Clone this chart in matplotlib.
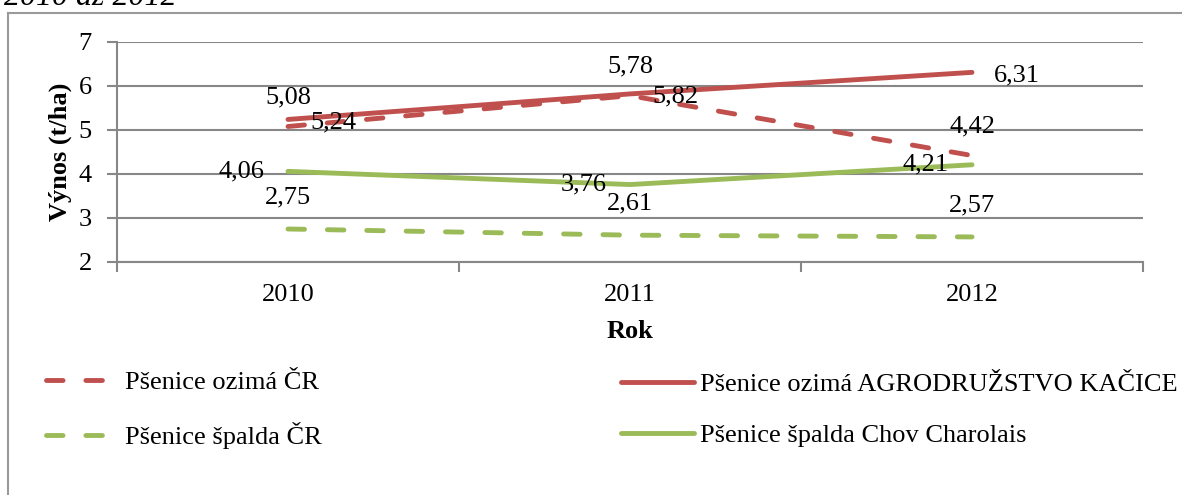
import matplotlib.pyplot as plt
from matplotlib.lines import Line2D

plt.rcParams['font.family'] = ['Liberation Serif', 'DejaVu Serif']

years = ['2010', '2011', '2012']
ozima_cr = [5.08, 5.78, 4.42]
ozima_agro = [5.24, 5.82, 6.31]
spalda_cr = [2.75, 2.61, 2.57]
spalda_chov = [4.06, 3.76, 4.21]
names = ['Pšenice ozimá ČR', 'Pšenice ozimá AGRODRUŽSTVO KAČICE',
         'Pšenice špalda ČR', 'Pšenice špalda Chov Charolais']

red = '#C0504D'
green = '#9BBB59'
grid = '#878787'
fs = 19
lw = 3.5
dash = (0, (3.4, 4.7))

fig = plt.figure(figsize=(11.82, 4.95), dpi=100)
ax = fig.add_axes([117/1182, 1 - 262/495, (1143-117)/1182, 220/495])

x = range(len(years))
l1, = ax.plot(x, ozima_cr, color=red, lw=lw, ls=dash, dash_capstyle='round', zorder=3)
l2, = ax.plot(x, ozima_agro, color=red, lw=lw, solid_capstyle='round', zorder=3)
l3, = ax.plot(x, spalda_cr, color=green, lw=lw, ls=dash, dash_capstyle='round', zorder=3)
l4, = ax.plot(x, spalda_chov, color=green, lw=lw, solid_capstyle='round', zorder=3)

# data labels, placed like Excel does (above / right / left)
def fmt(v):
    return f'{v:.2f}'.replace('.', ',')

for i in x:
    ax.annotate(fmt(ozima_cr[i]), (i, ozima_cr[i]), xytext=(0, 21), textcoords='offset points',
                ha='center', va='center', fontsize=fs, zorder=4)
    ax.annotate(fmt(ozima_agro[i]), (i, ozima_agro[i]), xytext=(16, -2), textcoords='offset points',
                ha='left', va='center', fontsize=fs, zorder=4)
    ax.annotate(fmt(spalda_cr[i]), (i, spalda_cr[i]), xytext=(0, 23), textcoords='offset points',
                ha='center', va='center', fontsize=fs, zorder=4)
    ax.annotate(fmt(spalda_chov[i]), (i, spalda_chov[i]), xytext=(-17, 0), textcoords='offset points',
                ha='right', va='center', fontsize=fs, zorder=4)

ax.set_xlim(-0.5, 2.5)
ax.set_ylim(2, 7)
ax.set_yticks(range(2, 8))
ax.yaxis.grid(True, color=grid, lw=1.5)
ax.set_axisbelow(True)
ax.set_xticks(list(x))
ax.set_xticklabels(years)
ax.set_xticks([-0.5, 0.5, 1.5, 2.5], minor=True)
ax.tick_params(axis='x', which='major', length=0, pad=16, labelsize=fs)
ax.tick_params(axis='x', which='minor', length=7, width=1.5, color=grid, direction='out')
ax.tick_params(axis='y', length=7, width=1.5, color=grid, direction='out', pad=11, labelsize=fs)
for s in ['top', 'right']:
    ax.spines[s].set_visible(False)
for s in ['left', 'bottom']:
    ax.spines[s].set_color(grid)
    ax.spines[s].set_linewidth(1.5)

ax.set_ylabel('Výnos (t/ha)', fontsize=fs, fontweight='bold', labelpad=5)
ax.set_xlabel('Rok', fontsize=fs, fontweight='bold', labelpad=10)

# legend in two columns
kw = dict(loc='center left', frameon=False, fontsize=fs, borderpad=0, borderaxespad=0,
          handlelength=2.75, handletextpad=0.25, labelspacing=1.05)
fig.legend([l1, l3], [names[0], names[2]], bbox_to_anchor=(46/1182, 1 - 410/495), **kw)
fig.legend([l2, l4], [names[1], names[3]], bbox_to_anchor=(621/1182, 1 - 410/495), **kw)

# outer chart frame and caption cut at top
fig.add_artist(Line2D([8/1182, 8/1182], [0, 1 - 13/495], color='#9a9a9a', lw=1.5))
fig.add_artist(Line2D([8/1182, 1], [1 - 13/495, 1 - 13/495], color='#9a9a9a', lw=1.5))
fig.text(4/1182, 1 - 5/495, '2010 až 2012', fontsize=23, style='italic', va='baseline')

fig.savefig('out.png', dpi=100)
